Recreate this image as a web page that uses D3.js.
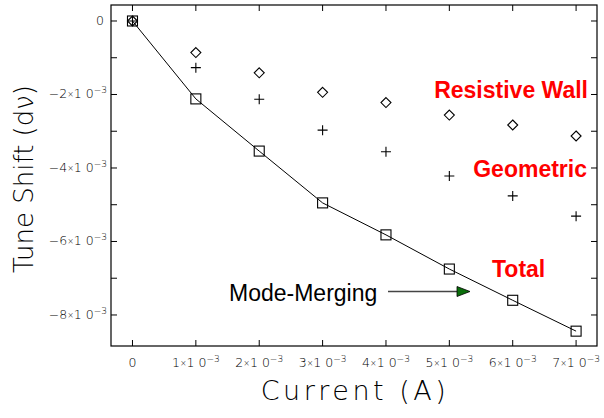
<!DOCTYPE html>
<html>
<head>
<meta charset="utf-8">
<script src="https://cdn.jsdelivr.net/npm/d3@7"></script>
<style>
body { margin: 0; background: #fff; }
.thin { font-family: "DejaVu Sans", sans-serif; font-weight: 200; fill: #000; }
.lbl { font-family: "Liberation Sans", Arial, sans-serif; }
</style>
</head>
<body>
<div id="chart"></div>
<script>
// currents in A
var currents = [0, 0.001, 0.002, 0.003, 0.004, 0.005, 0.006, 0.007];
// tune shifts
var total = [0, -2.12e-3, -3.54e-3, -4.95e-3, -5.82e-3, -6.75e-3, -7.6e-3, -8.44e-3];
var resistiveWall = [0, -0.86e-3, -1.41e-3, -1.94e-3, -2.22e-3, -2.56e-3, -2.83e-3, -3.13e-3];
var geometric = [0, -1.27e-3, -2.13e-3, -2.97e-3, -3.56e-3, -4.22e-3, -4.76e-3, -5.31e-3];

var xTicks = [0, 1, 2, 3, 4, 5, 6, 7];
var yTicks = [0, -2, -4, -6, -8];
var yMinor = [-1, -3, -5, -7];

var width = 604, height = 418;
var frame = {left: 111, top: 5, right: 597, bottom: 346};

var svg = d3.select("#chart").append("svg")
    .attr("width", width)
    .attr("height", height);

var x = d3.scaleLinear()
    .domain([-0.339e-3, 7.33e-3])
    .range([frame.left, frame.right]);

var y = d3.scaleLinear()
    .domain([-8.844e-3, 0.435e-3])
    .range([frame.bottom, frame.top]);

// frame
svg.append("rect")
    .attr("x", frame.left)
    .attr("y", frame.top)
    .attr("width", frame.right - frame.left)
    .attr("height", frame.bottom - frame.top)
    .attr("fill", "none")
    .attr("stroke", "#000")
    .attr("stroke-width", 1.2);

var tickLen = 6;

// x ticks, bottom and top, pointing inwards
xTicks.forEach(function (t) {
    var px = x(t * 1e-3);
    svg.append("line").attr("x1", px).attr("x2", px)
        .attr("y1", frame.bottom).attr("y2", frame.bottom - tickLen)
        .attr("stroke", "#000");
    svg.append("line").attr("x1", px).attr("x2", px)
        .attr("y1", frame.top).attr("y2", frame.top + tickLen)
        .attr("stroke", "#000");
});

// y ticks, left and right
yTicks.concat(yMinor).forEach(function (t) {
    var py = y(t * 1e-3);
    svg.append("line").attr("x1", frame.left).attr("x2", frame.left + tickLen)
        .attr("y1", py).attr("y2", py).attr("stroke", "#000");
    svg.append("line").attr("x1", frame.right).attr("x2", frame.right - tickLen)
        .attr("y1", py).attr("y2", py).attr("stroke", "#000");
});

// tick label "a×10^-3"
function sciLabel(sel, v) {
    if (v === 0) {
        sel.text("0");
        return;
    }
    sel.append("tspan").text((v < 0 ? "\u2212" : "") + Math.abs(v));
    sel.append("tspan").attr("font-size", "8px").attr("dy", -1).text("\u00d7");
    sel.append("tspan").attr("dy", 1).text("1 0");
    sel.append("tspan").attr("font-size", "9px").attr("dy", -5).text("\u22123");
}

xTicks.forEach(function (t) {
    var txt = svg.append("text")
        .attr("class", "thin")
        .attr("x", x(t * 1e-3))
        .attr("y", 367)
        .attr("text-anchor", "middle")
        .attr("font-size", "12.5px");
    sciLabel(txt, t);
});

yTicks.forEach(function (t) {
    var txt = svg.append("text")
        .attr("class", "thin")
        .attr("x", t === 0 ? 104 : 107)
        .attr("y", y(t * 1e-3) + 4)
        .attr("text-anchor", "end")
        .attr("font-size", "12.5px");
    sciLabel(txt, t);
});

// axis titles
svg.append("text")
    .attr("class", "thin")
    .attr("x", 355)
    .attr("y", 400)
    .attr("text-anchor", "middle")
    .attr("font-size", "27px")
    .attr("letter-spacing", "3.5px")
    .text("Current (A)");

svg.append("text")
    .attr("class", "thin")
    .attr("transform", "translate(33,179) rotate(-90)")
    .attr("text-anchor", "middle")
    .attr("font-size", "26px")
    .attr("letter-spacing", "0px")
    .text("Tune Shift (d\u03bd)");

// total line
var line = d3.line()
    .x(function (d, i) { return x(currents[i]); })
    .y(function (d) { return y(d); });

svg.append("path")
    .datum(total)
    .attr("d", line)
    .attr("fill", "none")
    .attr("stroke", "#000")
    .attr("stroke-width", 1);

// squares
var sq = 10;
svg.selectAll(".sq")
    .data(total)
    .enter()
    .append("rect")
    .attr("class", "sq")
    .attr("x", function (d, i) { return x(currents[i]) - sq / 2; })
    .attr("y", function (d) { return y(d) - sq / 2; })
    .attr("width", sq)
    .attr("height", sq)
    .attr("fill", "none")
    .attr("stroke", "#000")
    .attr("stroke-width", 1.1);

// diamonds
var dm = 5;
svg.selectAll(".dm")
    .data(resistiveWall)
    .enter()
    .append("path")
    .attr("class", "dm")
    .attr("d", function (d, i) {
        var cx = x(currents[i]), cy = y(d);
        return "M" + cx + "," + (cy - dm) + "L" + (cx + dm) + "," + cy +
            "L" + cx + "," + (cy + dm) + "L" + (cx - dm) + "," + cy + "Z";
    })
    .attr("fill", "none")
    .attr("stroke", "#000")
    .attr("stroke-width", 1.1);

// plus signs
var pl = 5;
svg.selectAll(".pl")
    .data(geometric)
    .enter()
    .append("path")
    .attr("class", "pl")
    .attr("d", function (d, i) {
        var cx = x(currents[i]), cy = y(d);
        return "M" + (cx - pl) + "," + cy + "L" + (cx + pl) + "," + cy +
            "M" + cx + "," + (cy - pl) + "L" + cx + "," + (cy + pl);
    })
    .attr("stroke", "#000")
    .attr("stroke-width", 1.1);

// series labels
svg.append("text").attr("class", "lbl")
    .attr("x", 588).attr("y", 98)
    .attr("text-anchor", "end")
    .attr("font-size", "23px").attr("font-weight", "bold")
    .attr("fill", "#ff0000")
    .text("Resistive Wall");

svg.append("text").attr("class", "lbl")
    .attr("x", 587).attr("y", 177)
    .attr("text-anchor", "end")
    .attr("font-size", "23px").attr("font-weight", "bold")
    .attr("fill", "#ff0000")
    .text("Geometric");

svg.append("text").attr("class", "lbl")
    .attr("x", 492).attr("y", 277)
    .attr("font-size", "23px").attr("font-weight", "bold")
    .attr("fill", "#ff0000")
    .text("Total");

// mode-merging annotation
svg.append("text").attr("class", "lbl")
    .attr("x", 229).attr("y", 301)
    .attr("font-size", "23px")
    .attr("fill", "#000")
    .text("Mode-Merging");

svg.append("line")
    .attr("x1", 388).attr("x2", 458)
    .attr("y1", 291.5).attr("y2", 291.5)
    .attr("stroke", "#444")
    .attr("stroke-width", 1.5);

svg.append("path")
    .attr("d", "M457,286.5L470,291.5L457,296.5Z")
    .attr("fill", "#0a6e0a")
    .attr("stroke", "#000")
    .attr("stroke-width", 0.8);
</script>
</body>
</html>
